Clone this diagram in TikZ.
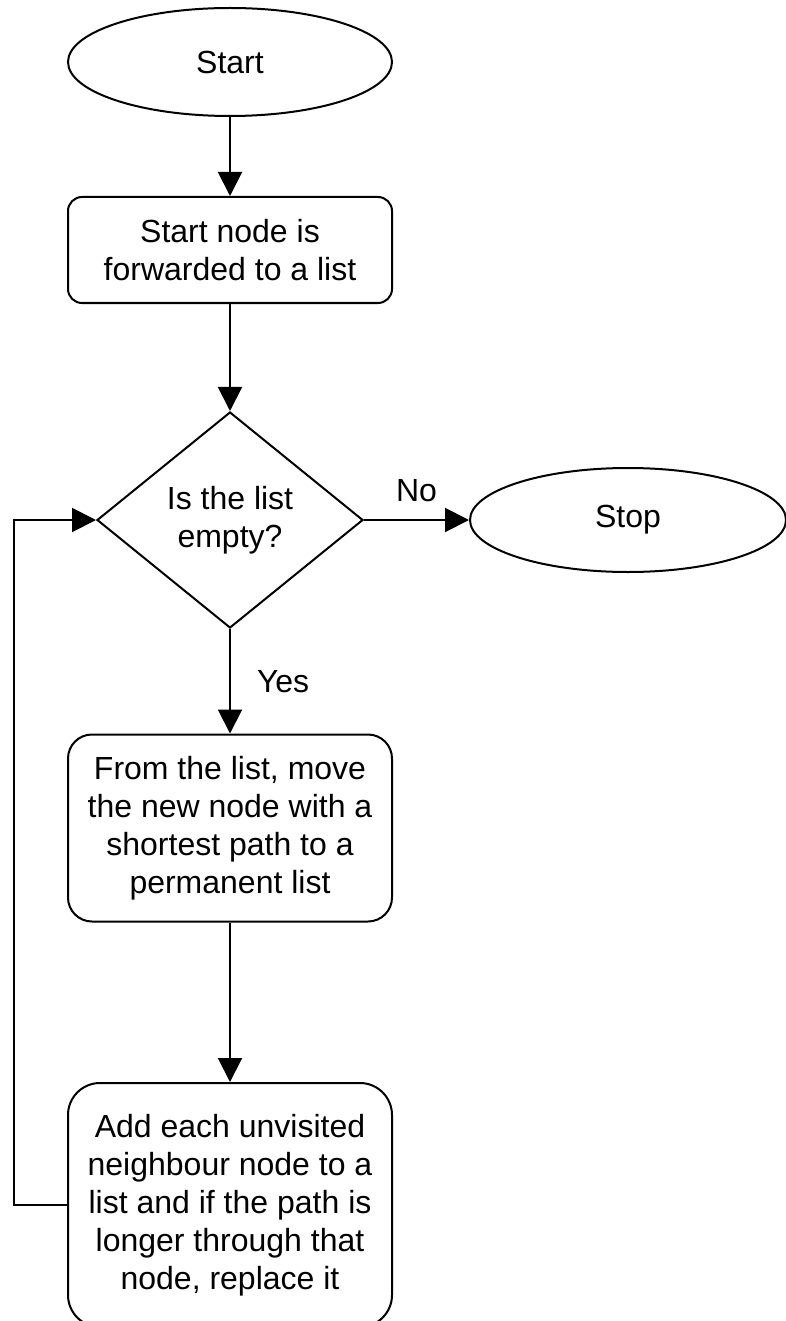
\documentclass[tikz,border=0pt]{standalone}
\usepackage{fontspec}
\setmainfont{Liberation Sans}
\usetikzlibrary{shapes.geometric,arrows.meta}
\begin{document}
\begin{tikzpicture}[x=1pt, y=-1pt, line width=2pt,
  font=\fontsize{32}{38}\selectfont,
  terminal/.style={ellipse, draw=black, minimum width=324pt, minimum height=108pt, inner sep=0pt},
  process/.style={rectangle, draw=black, rounded corners=#1, minimum width=324pt, align=center, inner sep=0pt},
  decision/.style={diamond, draw=black, aspect=1.23, minimum width=266pt, minimum height=216pt, inner sep=0pt, align=center},
  flow/.style={-{Triangle[length=24pt,width=24pt]}},
  label/.style={inner sep=0pt}]
\useasboundingbox (0,0) rectangle (785,1321);
\node [terminal] (start) at (230,62) {Start};
\node [process=14pt, minimum height=106pt] (forward) at (230,250)
  {Start node is\\forwarded to a list};
\node [decision] (empty) at (230,520) {Is the list\\empty?};
\node [terminal, minimum width=316pt, minimum height=104pt] (stop) at (628,520) {Stop};
\node [process=24pt, minimum height=187pt] (move) at (230,828)
  {From the list, move\\the new node with a\\shortest path to a\\permanent list};
\node [process=32pt, minimum height=244pt] (add) at (230,1205)
  {Add each unvisited\\neighbour node to a\\list and if the path is\\longer through that\\node, replace it};
\draw [flow] (start) -- (forward);
\draw [flow] (forward) -- (empty);
\draw [flow] (empty) -- node [label, midway, above=17pt] {No} (stop);
\draw [flow] (empty) -- node [label, midway, right=26pt] {Yes} (move);
\draw [flow] (move) -- (add);
\draw [flow] (add.west) -- ++(-53,0) |- (empty.west);
\end{tikzpicture}
\end{document}
